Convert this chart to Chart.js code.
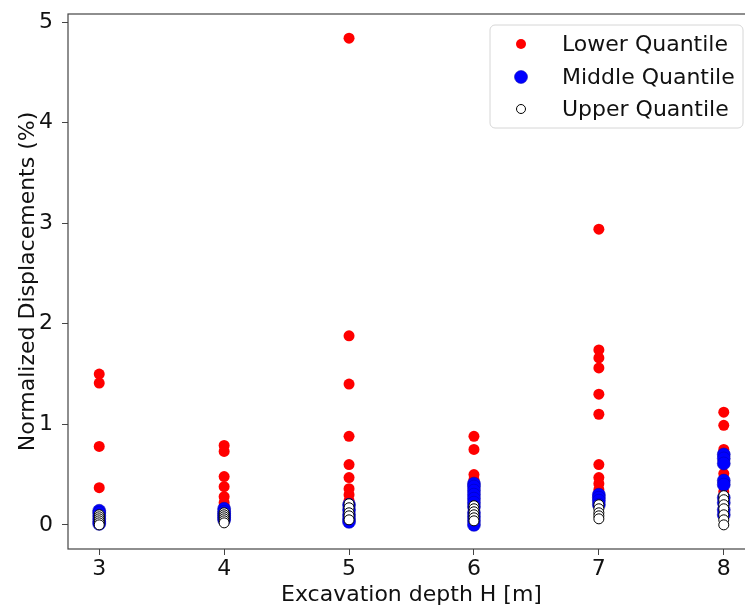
<!DOCTYPE html>
<html>
<head>
<meta charset="utf-8">
<script src="https://cdn.jsdelivr.net/npm/chart.js@4/dist/chart.umd.min.js"></script>
<style>
  html, body { margin: 0; padding: 0; overflow: hidden; background: #fff; }
  #wrap { width: 770px; height: 608px; }
</style>
</head>
<body>
<div id="wrap"><canvas id="grafico"></canvas></div>
<script>
// Datos
const profundidades = [3, 4, 5, 6, 7, 8];
const xTicks = [3, 4, 5, 6, 7, 8];
const yTicks = [0, 1, 2, 3, 4, 5];

// one list per depth, same order as profundidades
const lower = [
  [1.50, 1.41, 0.78, 0.37],
  [0.79, 0.73, 0.48, 0.38, 0.28, 0.22, 0.18, 0.15],
  [4.84, 1.88, 1.40, 0.88, 0.60, 0.47, 0.36, 0.30, 0.24],
  [0.88, 0.75, 0.50, 0.45, 0.38, 0.30],
  [2.94, 1.74, 1.66, 1.56, 1.30, 1.10, 0.60, 0.47, 0.41, 0.35],
  [1.12, 0.99, 0.75, 0.72, 0.51, 0.40, 0.33]
];
const middle = [
  [0.14, 0.12, 0.09, 0.06, 0.03, 0.01],
  [0.16, 0.13, 0.11, 0.09, 0.07, 0.05],
  [0.20, 0.15, 0.10, 0.06, 0.03],
  [0.41, 0.38, 0.34, 0.30, 0.26, 0.22, 0.18, 0.12, 0.08, 0.04, 0.00],
  [0.30, 0.27, 0.24, 0.20],
  [0.70, 0.66, 0.61, 0.44, 0.40, 0.27, 0.22, 0.15, 0.10]
];
const upper = [
  [0.10, 0.08, 0.06, 0.04, 0.02, 0.00],
  [0.12, 0.10, 0.08, 0.06, 0.04, 0.02],
  [0.21, 0.17, 0.12, 0.09, 0.05],
  [0.19, 0.16, 0.13, 0.10, 0.07, 0.04],
  [0.20, 0.16, 0.12, 0.09, 0.06],
  [0.29, 0.25, 0.20, 0.16, 0.10, 0.05, 0.00]
];
const etiquetas = ['Lower Quantile', 'Middle Quantile', 'Upper Quantile'];

function aPuntos(grupos) {
  const pts = [];
  grupos.forEach((vals, i) => vals.forEach(v => pts.push({ x: profundidades[i], y: v })));
  return pts;
}

const FUENTE = 'DejaVu Sans';
const TEXTO = '#111';
const TAM = 22;

// custom legend box like matplotlib's
const leyenda = {
  id: 'leyenda',
  afterDraw(chart) {
    const ctx = chart.ctx;
    ctx.save();
    ctx.beginPath();
    ctx.roundRect(490, 25, 253, 103, 5);
    ctx.fillStyle = 'rgba(255,255,255,0.8)';
    ctx.fill();
    ctx.strokeStyle = '#d6d6d6';
    ctx.lineWidth = 1;
    ctx.stroke();
    const filas = [44, 77, 109];
    const radios = [5, 6.5, 4.5];
    chart.data.datasets.forEach((ds, i) => {
      ctx.beginPath();
      ctx.arc(521, filas[i], radios[i], 0, Math.PI * 2);
      ctx.fillStyle = ds.backgroundColor;
      ctx.fill();
      if (ds.borderWidth) {
        ctx.strokeStyle = ds.borderColor;
        ctx.lineWidth = ds.borderWidth;
        ctx.stroke();
      }
      ctx.fillStyle = TEXTO;
      ctx.font = TAM + 'px "' + FUENTE + '"';
      ctx.textBaseline = 'middle';
      ctx.fillText(etiquetas[i], 562, filas[i] + 1);
    });
    ctx.restore();
  }
};

// frame round the plot area
const marco = {
  id: 'marco',
  afterDatasetsDraw(chart) {
    const a = chart.chartArea;
    const ctx = chart.ctx;
    ctx.save();
    ctx.strokeStyle = '#444';
    ctx.lineWidth = 1.2;
    ctx.strokeRect(a.left, a.top, a.right - a.left, a.bottom - a.top);
    ctx.restore();
  }
};

new Chart(document.getElementById('grafico'), {
  type: 'scatter',
  data: {
    datasets: [
      { label: etiquetas[0], data: aPuntos(lower), backgroundColor: '#ff0000', borderWidth: 0, pointRadius: 5.5, order: 3 },
      { label: etiquetas[1], data: aPuntos(middle), backgroundColor: '#0000ff', borderColor: '#0000aa', borderWidth: 0.5, pointRadius: 6.5, order: 2 },
      { label: etiquetas[2], data: aPuntos(upper), backgroundColor: '#ffffff', borderColor: '#000000', borderWidth: 1, pointRadius: 5, order: 1 }
    ]
  },
  options: {
    responsive: true,
    maintainAspectRatio: false,
    animation: false,
    layout: { padding: { top: 14, right: 15, left: 15, bottom: 0 } },
    plugins: { legend: { display: false }, tooltip: { enabled: false } },
    scales: {
      x: {
        type: 'linear', min: 2.75, max: 8.25,
        afterBuildTicks: s => { s.ticks = xTicks.map(v => ({ value: v })); },
        afterFit: s => { s.height = 59; s.paddingLeft = 0; s.paddingRight = 0; },
        grid: { drawOnChartArea: false, drawTicks: true, tickLength: 6, tickColor: '#444' },
        border: { display: false },
        ticks: { color: TEXTO, font: { family: FUENTE, size: TAM }, padding: 1, maxRotation: 0 },
        title: { display: true, text: 'Excavation depth H [m]', color: TEXTO, font: { family: FUENTE, size: TAM }, padding: { top: 0, bottom: 0 } }
      },
      y: {
        type: 'linear', min: -0.24, max: 5.08,
        afterBuildTicks: s => { s.ticks = yTicks.map(v => ({ value: v })); },
        afterFit: s => { s.width = 53; s.paddingTop = 0; s.paddingBottom = 0; },
        grid: { drawOnChartArea: false, drawTicks: true, tickLength: 6, tickColor: '#444' },
        border: { display: false },
        ticks: { color: TEXTO, font: { family: FUENTE, size: TAM }, padding: 9 },
        title: { display: true, text: 'Normalized Displacements (%)', color: TEXTO, font: { family: FUENTE, size: TAM }, padding: { top: 0, bottom: 0 } }
      }
    }
  },
  plugins: [marco, leyenda]
});
</script>
</body>
</html>
